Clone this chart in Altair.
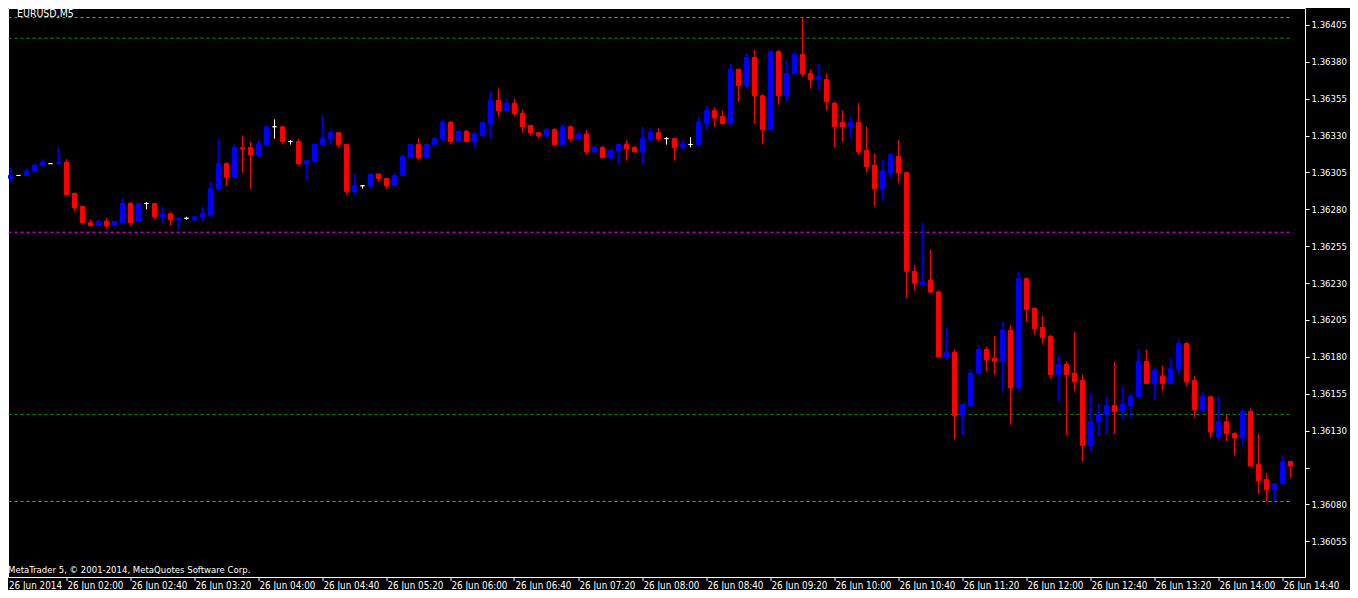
import altair as alt
import pandas as pd

# ---------------- data (EURUSD, M5, 26 Jun 2014) ----------------
open_ = [
    1.36283, 1.36301, 1.36303, 1.36303, 1.36306, 1.36310, 1.36311, 1.36311, 1.36312, 1.36291,
    1.36282, 1.36271, 1.36269, 1.36272, 1.36269, 1.36271, 1.36284, 1.36272, 1.36284, 1.36284,
    1.36275, 1.36277, 1.36273, 1.36274, 1.36273, 1.36275, 1.36276, 1.36294, 1.36311, 1.36302,
    1.36322, 1.36322, 1.36317, 1.36324, 1.36336, 1.36336, 1.36326, 1.36326, 1.36311, 1.36313,
    1.36324, 1.36328, 1.36332, 1.36324, 1.36292, 1.36296, 1.36296, 1.36304, 1.36301, 1.36296,
    1.36303, 1.36315, 1.36324, 1.36315, 1.36324, 1.36328, 1.36339, 1.36326, 1.36333, 1.36326,
    1.36330, 1.36338, 1.36354, 1.36347, 1.36352, 1.36345, 1.36337, 1.36332, 1.36330, 1.36334,
    1.36324, 1.36336, 1.36328, 1.36331, 1.36319, 1.36322, 1.36315, 1.36320, 1.36324, 1.36322,
    1.36319, 1.36328, 1.36332, 1.36328, 1.36328, 1.36322, 1.36324, 1.36324, 1.36338, 1.36347,
    1.36343, 1.36338, 1.36375, 1.36364, 1.36383, 1.36357, 1.36334, 1.36387, 1.36357, 1.36372,
    1.36385, 1.36372, 1.36368, 1.36368, 1.36352, 1.36339, 1.36336, 1.36339, 1.36320, 1.36310,
    1.36294, 1.36305, 1.36316, 1.36305, 1.36238, 1.36229, 1.36232, 1.36224, 1.36180, 1.36183,
    1.36140, 1.36147, 1.36169, 1.36185, 1.36179, 1.36177, 1.36198, 1.36159, 1.36233, 1.36213,
    1.36200, 1.36194, 1.36168, 1.36175, 1.36169, 1.36164, 1.36120, 1.36136, 1.36141, 1.36147,
    1.36143, 1.36147, 1.36153, 1.36177, 1.36162, 1.36167, 1.36162, 1.36172, 1.36189, 1.36164,
    1.36144, 1.36153, 1.36126, 1.36136, 1.36128, 1.36125, 1.36143, 1.36107, 1.36097, 1.36090,
    1.36094, 1.36109,
]
high = [
    1.36302, 1.36308, 1.36303, 1.36308, 1.36311, 1.36314, 1.36311, 1.36322, 1.36314, 1.36291,
    1.36282, 1.36273, 1.36273, 1.36274, 1.36272, 1.36288, 1.36285, 1.36284, 1.36285, 1.36284,
    1.36282, 1.36278, 1.36275, 1.36275, 1.36276, 1.36282, 1.36299, 1.36328, 1.36312, 1.36324,
    1.36330, 1.36326, 1.36327, 1.36336, 1.36341, 1.36336, 1.36327, 1.36328, 1.36313, 1.36324,
    1.36344, 1.36334, 1.36332, 1.36324, 1.36304, 1.36296, 1.36304, 1.36304, 1.36301, 1.36304,
    1.36317, 1.36324, 1.36328, 1.36325, 1.36329, 1.36341, 1.36340, 1.36334, 1.36334, 1.36333,
    1.36339, 1.36360, 1.36362, 1.36355, 1.36355, 1.36348, 1.36337, 1.36332, 1.36335, 1.36335,
    1.36338, 1.36337, 1.36333, 1.36334, 1.36323, 1.36323, 1.36320, 1.36324, 1.36327, 1.36323,
    1.36336, 1.36335, 1.36335, 1.36329, 1.36328, 1.36327, 1.36329, 1.36343, 1.36350, 1.36349,
    1.36347, 1.36379, 1.36375, 1.36386, 1.36388, 1.36358, 1.36388, 1.36388, 1.36381, 1.36387,
    1.36410, 1.36375, 1.36379, 1.36372, 1.36353, 1.36347, 1.36343, 1.36352, 1.36336, 1.36318,
    1.36314, 1.36318, 1.36327, 1.36305, 1.36242, 1.36271, 1.36253, 1.36225, 1.36200, 1.36185,
    1.36148, 1.36171, 1.36188, 1.36187, 1.36194, 1.36204, 1.36202, 1.36238, 1.36233, 1.36213,
    1.36208, 1.36195, 1.36181, 1.36177, 1.36197, 1.36168, 1.36155, 1.36148, 1.36153, 1.36177,
    1.36160, 1.36155, 1.36185, 1.36185, 1.36173, 1.36174, 1.36179, 1.36192, 1.36190, 1.36167,
    1.36156, 1.36153, 1.36153, 1.36141, 1.36129, 1.36145, 1.36145, 1.36128, 1.36101, 1.36094,
    1.36113, 1.36109,
]
low = [
    1.36282, 1.36299, 1.36303, 1.36303, 1.36305, 1.36309, 1.36311, 1.36311, 1.36289, 1.36279,
    1.36271, 1.36269, 1.36269, 1.36267, 1.36269, 1.36270, 1.36269, 1.36272, 1.36280, 1.36273,
    1.36271, 1.36269, 1.36267, 1.36273, 1.36272, 1.36272, 1.36275, 1.36294, 1.36296, 1.36302,
    1.36305, 1.36294, 1.36315, 1.36324, 1.36328, 1.36324, 1.36324, 1.36310, 1.36300, 1.36311,
    1.36324, 1.36324, 1.36322, 1.36290, 1.36290, 1.36294, 1.36294, 1.36299, 1.36294, 1.36296,
    1.36303, 1.36315, 1.36313, 1.36315, 1.36324, 1.36326, 1.36324, 1.36326, 1.36326, 1.36322,
    1.36330, 1.36328, 1.36343, 1.36347, 1.36343, 1.36332, 1.36330, 1.36328, 1.36328, 1.36323,
    1.36323, 1.36326, 1.36328, 1.36317, 1.36319, 1.36315, 1.36314, 1.36311, 1.36313, 1.36319,
    1.36311, 1.36326, 1.36326, 1.36324, 1.36313, 1.36321, 1.36322, 1.36324, 1.36334, 1.36336,
    1.36338, 1.36338, 1.36353, 1.36362, 1.36338, 1.36324, 1.36334, 1.36351, 1.36353, 1.36372,
    1.36370, 1.36362, 1.36361, 1.36347, 1.36322, 1.36326, 1.36328, 1.36317, 1.36305, 1.36282,
    1.36286, 1.36301, 1.36298, 1.36220, 1.36225, 1.36229, 1.36223, 1.36180, 1.36178, 1.36124,
    1.36127, 1.36146, 1.36169, 1.36170, 1.36168, 1.36156, 1.36134, 1.36157, 1.36204, 1.36195,
    1.36189, 1.36165, 1.36150, 1.36127, 1.36157, 1.36109, 1.36116, 1.36127, 1.36128, 1.36128,
    1.36138, 1.36139, 1.36153, 1.36162, 1.36151, 1.36157, 1.36162, 1.36168, 1.36160, 1.36139,
    1.36142, 1.36125, 1.36124, 1.36123, 1.36113, 1.36120, 1.36106, 1.36087, 1.36082, 1.36082,
    1.36094, 1.36098,
]
close = [
    1.36301, 1.36303, 1.36303, 1.36306, 1.36310, 1.36312, 1.36311, 1.36312, 1.36290, 1.36281,
    1.36271, 1.36269, 1.36272, 1.36269, 1.36272, 1.36284, 1.36271, 1.36284, 1.36284, 1.36275,
    1.36277, 1.36273, 1.36274, 1.36274, 1.36275, 1.36277, 1.36294, 1.36311, 1.36302, 1.36322,
    1.36321, 1.36317, 1.36324, 1.36336, 1.36336, 1.36326, 1.36326, 1.36311, 1.36313, 1.36324,
    1.36328, 1.36332, 1.36324, 1.36292, 1.36296, 1.36296, 1.36304, 1.36301, 1.36296, 1.36303,
    1.36316, 1.36324, 1.36315, 1.36324, 1.36328, 1.36339, 1.36326, 1.36333, 1.36326, 1.36331,
    1.36339, 1.36354, 1.36347, 1.36352, 1.36345, 1.36336, 1.36332, 1.36330, 1.36334, 1.36324,
    1.36336, 1.36328, 1.36331, 1.36319, 1.36322, 1.36315, 1.36320, 1.36324, 1.36321, 1.36319,
    1.36328, 1.36332, 1.36328, 1.36328, 1.36322, 1.36324, 1.36324, 1.36339, 1.36347, 1.36342,
    1.36338, 1.36375, 1.36364, 1.36383, 1.36357, 1.36334, 1.36387, 1.36357, 1.36372, 1.36385,
    1.36372, 1.36368, 1.36370, 1.36353, 1.36336, 1.36336, 1.36339, 1.36319, 1.36309, 1.36294,
    1.36306, 1.36317, 1.36305, 1.36238, 1.36230, 1.36231, 1.36224, 1.36180, 1.36183, 1.36140,
    1.36148, 1.36169, 1.36185, 1.36178, 1.36177, 1.36198, 1.36159, 1.36233, 1.36212, 1.36199,
    1.36193, 1.36168, 1.36175, 1.36168, 1.36163, 1.36120, 1.36136, 1.36141, 1.36147, 1.36143,
    1.36148, 1.36153, 1.36177, 1.36162, 1.36171, 1.36162, 1.36172, 1.36189, 1.36163, 1.36144,
    1.36153, 1.36129, 1.36136, 1.36128, 1.36125, 1.36143, 1.36106, 1.36096, 1.36090, 1.36094,
    1.36109, 1.36106,
]

# horizontal dashed levels (day high, pivots, day low)
level_prices = [1.36410, 1.36396, 1.362645, 1.36141, 1.36082]
level_colors = ["#7090b0", "#009a00", "#ff00ff", "#009a00", "#7090b0"]

# price axis ticks
price_ticks = [1.36055, 1.36080, 1.36105, 1.36130, 1.36155, 1.36180, 1.36205, 1.36230,
               1.36255, 1.36280, 1.36305, 1.36330, 1.36355, 1.36380, 1.36405]

symbol_label = "EURUSD,M5"
copyright_label = "MetaTrader 5, \u00a9 2001-2014, MetaQuotes Software Corp."
first_time_label = "26 Jun 2014"

# ---------------- tables ----------------
times = pd.date_range("2014-06-26 01:20", periods=len(open_), freq="5min")
df = pd.DataFrame({
    "t": times.strftime("%Y-%m-%dT%H:%M:%SZ"),
    "open": open_, "high": high, "low": low, "close": close,
})
df["col"] = ["#0000ff" if c > o else ("#ff0000" if c < o else "#ffffff")
             for o, c in zip(open_, close)]

lines_df = pd.DataFrame({
    "price": level_prices,
    "col": level_colors,
    "t0": [df["t"].iloc[0]] * len(level_prices),
    "t1": [df["t"].iloc[-1]] * len(level_prices),
})

x_ticks = pd.date_range("2014-06-26 02:00", "2014-06-26 14:40", freq="40min")
x_tick_ms = [int(ts.value // 10**6) for ts in x_ticks]

x_dom = [int(pd.Timestamp("2014-06-26 01:23:26.250").value // 10**6),
         int(pd.Timestamp("2014-06-26 14:54:03.750").value // 10**6)]
y_dom = [1.36030763, 1.36416525]

FONT = "DejaVu Sans Condensed, Liberation Sans"
W, H = 1297, 569

xs = alt.Scale(type="utc", domain=x_dom, nice=False, padding=0)
ys = alt.Scale(domain=y_dom, zero=False, nice=False, padding=0)

x_axis = alt.Axis(values=x_tick_ms, labelExpr="utcFormat(datum.value, '%d %b %H:%M')",
                  orient="bottom", domain=False, grid=False, tickColor="#ffffff", tickSize=4,
                  tickWidth=1, labelColor="#ffffff", labelFont=FONT, labelFontSize=9.8,
                  labelAlign="left", labelBaseline="top", labelPadding=0, labelOffset=1,
                  labelOverlap=False, labelFlush=False, title=None, translate=0)
y_axis = alt.Axis(values=price_ticks, orient="right",
                  labelExpr="abs(datum.value - 1.36105) < 0.000001 ? '' : format(datum.value, '.5f')",
                  domain=False, grid=False, tickColor="#ffffff", tickSize=4, tickWidth=1,
                  labelColor="#ffffff", labelFont=FONT, labelFontSize=9.5, labelPadding=2,
                  labelBaseline="middle", labelOverlap=False, labelFlush=False, title=None)

levels = alt.Chart(lines_df).mark_rule(strokeDash=[3, 3], strokeWidth=1, clip=True).encode(
    x=alt.X("t0:T", scale=xs, axis=x_axis),
    x2="t1:T",
    y=alt.Y("price:Q", scale=ys, axis=y_axis),
    stroke=alt.Stroke("col:N", scale=None),
)

wicks = alt.Chart(df).mark_rule(strokeWidth=1, clip=True).encode(
    x=alt.X("t:T", scale=xs, axis=x_axis),
    y=alt.Y("low:Q", scale=ys, axis=y_axis),
    y2="high:Q",
    stroke=alt.Stroke("col:N", scale=None),
)

bodies = alt.Chart(df).mark_bar(size=4, strokeWidth=1, clip=True).encode(
    x=alt.X("t:T", scale=xs, axis=x_axis),
    y=alt.Y("open:Q", scale=ys, axis=y_axis),
    y2="close:Q",
    fill=alt.Fill("col:N", scale=None),
    stroke=alt.Stroke("col:N", scale=None),
)

txt_df = pd.DataFrame({"a": [0]})
sym_text = alt.Chart(txt_df).mark_text(
    text=symbol_label, font=FONT, fontSize=10.5, color="#ffffff", align="left", baseline="middle"
).encode(x=alt.value(9), y=alt.value(5.5))
copy_text = alt.Chart(txt_df).mark_text(
    text=copyright_label, font=FONT, fontSize=9.5, color="#ffffff", align="left", baseline="middle"
).encode(x=alt.value(0), y=alt.value(561.5))
first_text = alt.Chart(txt_df).mark_text(
    text=first_time_label, font=FONT, fontSize=9.8, color="#ffffff", align="left", baseline="top"
).encode(x=alt.value(1), y=alt.value(573))

chart = alt.layer(levels, wicks, bodies, sym_text, copy_text, first_text).properties(
    width=W, height=H,
    autosize=alt.AutoSizeParams(type="none"),
    padding={"left": 0, "top": 0, "right": 45, "bottom": 13},
).configure(background="#000000").configure_view(
    stroke="#ffffff", strokeWidth=1, fill="#000000"
)

chart.save("out.html", embed_options={"renderer": "svg", "actions": False})
